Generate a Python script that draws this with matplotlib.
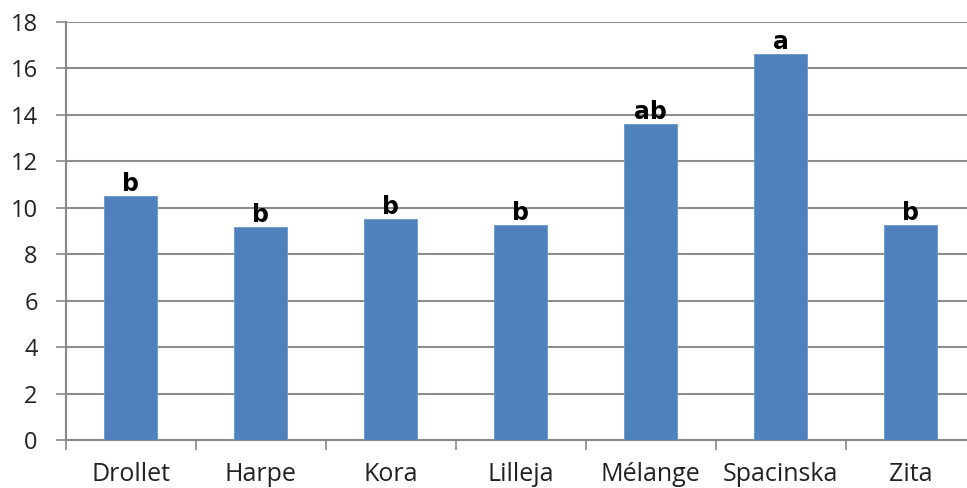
import matplotlib
matplotlib.use("Agg")
import matplotlib.pyplot as plt
import numpy as np

categories = ["Drollet", "Harpe", "Kora", "Lilleja", "Mélange", "Spacinska", "Zita"]
values = [10.50, 9.15, 9.51, 9.26, 13.60, 16.60, 9.25]
letters = ["b", "b", "b", "b", "ab", "a", "b"]
yticks = [0, 2, 4, 6, 8, 10, 12, 14, 16, 18]

W, H = 967, 488
fig = plt.figure(figsize=(W / 100, H / 100), dpi=100)
left, right, bottom, top = 65.5, 975.5, 440, 21.7
ax = fig.add_axes([left / W, 1 - bottom / H, (right - left) / W, (bottom - top) / H])

x = np.arange(len(categories))
ax.bar(x, values, width=0.41, color="#4F81BD", edgecolor="#6A97CC", linewidth=0.6, zorder=3)

for xi, v, t in zip(x, values, letters):
    ax.text(xi, v + 0.22, t, ha="center", va="baseline", fontsize=17, fontweight="bold",
            family="DejaVu Sans", color="black", zorder=4)

ax.set_xlim(-0.5, len(categories) - 0.5)
ax.set_ylim(0, 18)
ax.set_yticks(yticks)
ax.set_yticklabels([str(t) for t in yticks], fontsize=17, family="Open Sans", color="#222222")
ax.set_xticks(x)
ax.set_xticklabels(categories, fontsize=18, family="Open Sans", color="#222222")
ax.set_xticks(np.arange(-0.5, len(categories)), minor=True)
ax.tick_params(axis="x", which="major", length=0, pad=16)
ax.tick_params(axis="x", which="minor", length=7, color="#888888", width=1.2, direction="out")
ax.tick_params(axis="y", length=7, color="#888888", width=1.2, pad=13)

ax.grid(axis="y", color="#8c8c8c", linewidth=1.5, zorder=0)
for s in ["top", "right"]:
    ax.spines[s].set_visible(False)
for s in ["left", "bottom"]:
    ax.spines[s].set_color("#888888")
    ax.spines[s].set_linewidth(1.5)

fig.savefig("out.png", dpi=100)
